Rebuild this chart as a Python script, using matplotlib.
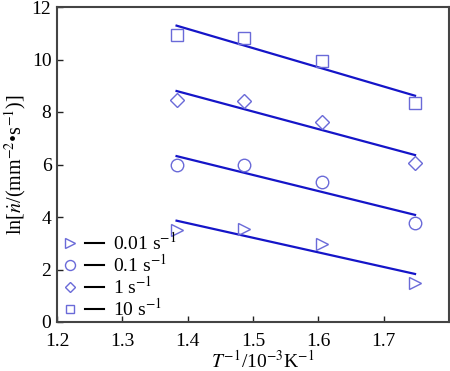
import matplotlib
matplotlib.use("Agg")
import matplotlib.pyplot as plt
from matplotlib.lines import Line2D
from matplotlib.legend_handler import HandlerTuple

plt.rcParams['font.family'] = ['Liberation Serif', 'DejaVu Serif']
plt.rcParams['mathtext.fontset'] = 'stix'

# Data
x_vals = [1.383, 1.486, 1.605, 1.748]
labels = ['0.01 s$^{-1}$', '0.1 s$^{-1}$', '1 s$^{-1}$', '10 s$^{-1}$']
y_001 = [3.50, 3.54, 2.97, 1.47]
y_01 = [5.98, 5.98, 5.32, 3.78]
y_1 = [8.46, 8.42, 7.63, 6.05]
y_10 = [10.93, 10.83, 9.94, 8.35]
fit_x = [1.383, 1.748]
fit_001 = [3.86, 1.83]
fit_01 = [6.32, 4.08]
fit_1 = [8.80, 6.36]
fit_10 = [11.29, 8.62]

series = [y_001, y_01, y_1, y_10]
fits = [fit_001, fit_01, fit_1, fit_10]
markers = ['>', 'o', 'D', 's']
msizes = [9, 9, 7, 8]

mcol = '#6a6ad8'
lcol = '#1515c8'

fig = plt.figure(figsize=(4.5, 3.71), dpi=100)
ax = fig.add_axes([57/450, 1-322/371, 392/450, 315/371])

handles = []
for ys, fy, m, ms in zip(series, fits, markers, msizes):
    ax.plot(fit_x, fy, color=lcol, lw=1.6, zorder=2)
    ax.plot(x_vals, ys, linestyle='none', marker=m, ms=ms, mfc='none',
            mec=mcol, mew=1.0, zorder=3)
    mh = Line2D([], [], linestyle='none', marker=m, ms=ms*0.8, mfc='none',
                mec=mcol, mew=1.0)
    lh = Line2D([], [], color='black', lw=1.5)
    handles.append((mh, lh))

leg = ax.legend(handles, labels, handler_map={tuple: HandlerTuple(ndivide=None, pad=0.25)},
                loc='lower left', bbox_to_anchor=(-0.02, -0.03), frameon=False,
                fontsize=14, handlelength=2.2, handletextpad=0.5, labelspacing=0.0,
                borderaxespad=0.2)

ax.set_xlim(1.2, 1.8)
ax.set_ylim(0, 12)
ax.set_xticks([1.2, 1.3, 1.4, 1.5, 1.6, 1.7])
ax.set_yticks([0, 2, 4, 6, 8, 10, 12])
ax.set_xticklabels(['1.2', '1.3', '1.4', '1.5', '1.6', '1.7'])
ax.tick_params(direction='in', length=4, width=1, labelsize=14, colors='#222222',
               labelcolor='black')
ax.tick_params(axis='x', pad=8)
ax.tick_params(axis='y', pad=4)
for s in ax.spines.values():
    s.set_color('#444444')
    s.set_linewidth(1.5)

ax.set_xlabel('$T^{-1}$/10$^{-3}$K$^{-1}$', fontsize=14)
ax.xaxis.set_label_coords(0.525, -0.087)
ax.set_ylabel('ln[$\\dot{n}$/(mm$^{-2}$•s$^{-1}$)]', fontsize=14.5, labelpad=3)

fig.savefig('out.png', dpi=100)
